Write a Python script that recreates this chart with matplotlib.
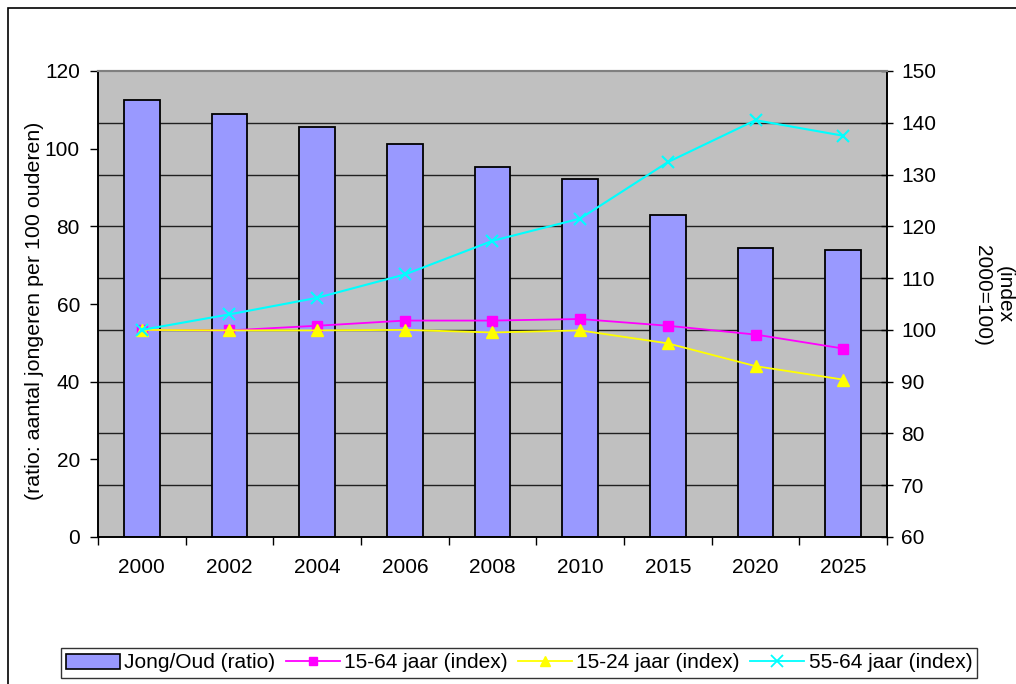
import numpy as np
import matplotlib
matplotlib.use("Agg")
import matplotlib.pyplot as plt
from matplotlib.patches import Rectangle, Patch
from matplotlib.lines import Line2D

plt.rcParams['font.family'] = ['Liberation Sans', 'DejaVu Sans']

# Data
years = ['2000', '2002', '2004', '2006', '2008', '2010', '2015', '2020', '2025']
jong_oud = [112.6, 109.0, 105.6, 101.3, 95.4, 92.3, 82.8, 74.3, 73.8]
idx_15_64 = [100.0, 99.9, 100.8, 101.8, 101.8, 102.1, 100.8, 99.1, 96.4]
idx_15_24 = [100.0, 99.9, 99.9, 100.0, 99.5, 99.9, 97.4, 93.0, 90.4]
idx_55_64 = [100.0, 103.0, 106.2, 110.7, 117.2, 121.5, 132.4, 140.5, 137.5]

W, H = 1016, 684
FS = 15
fig = plt.figure(figsize=(W / 100, H / 100), dpi=100)

# plot area in pixels
left, right, top, bottom = 98, 887, 71, 537
ax1 = fig.add_axes([left / W, 1 - bottom / H, (right - left) / W, (bottom - top) / H])
ax1.set_facecolor('#C0C0C0')

x = np.arange(len(years))
ax1.bar(x, jong_oud, width=0.41, color='#9999FF', edgecolor='black', linewidth=1.3, zorder=2)
ax1.set_xlim(-0.5, len(years) - 0.5)
ax1.set_ylim(0, 120)
ax1.set_yticks(range(0, 121, 20))

# gridlines follow the right axis (every 10 index points)
for v in range(70, 150, 10):
    ax1.axhline((v - 60) * 120 / 90, color='#202020', lw=1.0, zorder=1)

ax1.set_xticks(x)
ax1.set_xticklabels(years)
ax1.set_xticks(np.arange(-0.5, len(years)), minor=True)
ax1.tick_params(axis='x', which='major', length=0, pad=15, labelsize=FS)
ax1.tick_params(axis='x', which='minor', length=6, direction='out', width=1)
ax1.tick_params(axis='y', length=6, direction='out', width=1, labelsize=FS, pad=7)

ax2 = ax1.twinx()
ax2.set_ylim(60, 150)
ax2.set_yticks(range(60, 151, 10))
ax2.tick_params(axis='y', length=8, direction='inout', width=1, labelsize=FS, pad=6)
ax2.plot(x, idx_15_64, color='#FF00FF', marker='s', markersize=7, lw=1.3)
ax2.plot(x, idx_15_24, color='#FFFF00', marker='^', markersize=8, lw=1.3)
ax2.plot(x, idx_55_64, color='#00FFFF', marker='x', markersize=9, mew=1.5, lw=1.5)

for ax in (ax1, ax2):
    ax.spines['top'].set_color('#808080')
    ax.spines['top'].set_linewidth(1.5)
    ax.spines['left'].set_linewidth(1.2)
    ax.spines['right'].set_linewidth(1.2)
    ax.spines['bottom'].set_linewidth(1.2)

fig.text(35 / W, 1 - 311 / H, '(ratio: aantal jongeren per 100 ouderen)', rotation=90,
         ha='center', va='center', fontsize=15.4)
fig.text(993 / W, 1 - 295 / H, '(index\n2000=100)', rotation=270,
         ha='center', va='center', fontsize=FS, multialignment='center')

# outer chart border
fig.patches.append(Rectangle((8 / W, -0.1), 1.0, 1 - 8 / H + 0.1, transform=fig.transFigure,
                             fill=False, ec='black', lw=1.2))

handles = [
    Patch(facecolor='#9999FF', edgecolor='black', linewidth=1.2),
    Line2D([], [], color='#FF00FF', marker='s', markersize=6, lw=1.3),
    Line2D([], [], color='#FFFF00', marker='^', markersize=7, lw=1.3),
    Line2D([], [], color='#00FFFF', marker='x', markersize=8, mew=1.3, lw=1.3),
]
labels = ['Jong/Oud (ratio)', '15-64 jaar (index)', '15-24 jaar (index)', '55-64 jaar (index)']
leg = fig.legend(handles, labels, ncol=4, loc='center',
                 bbox_to_anchor=(519 / W, 1 - 663 / H), frameon=True, fancybox=False,
                 edgecolor='black', fontsize=FS, handlelength=2.6, handletextpad=0.2,
                 columnspacing=0.5, borderpad=0.25)
leg.get_frame().set_linewidth(1.0)

fig.savefig('out.png', dpi=100)
